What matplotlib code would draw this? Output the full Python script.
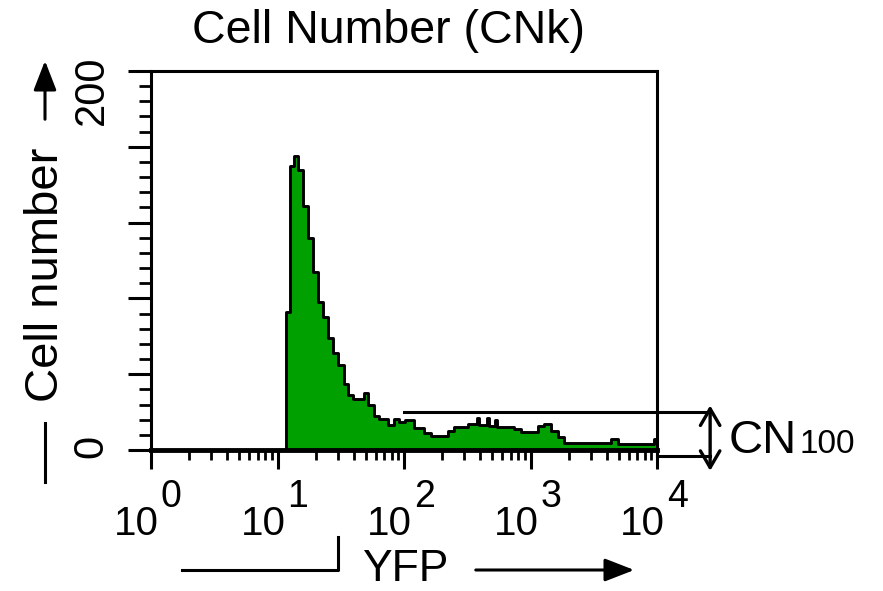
import numpy as np
import matplotlib
matplotlib.use("Agg")
import matplotlib.pyplot as plt
from matplotlib import font_manager as fm
from matplotlib.ticker import FixedLocator, MultipleLocator, NullFormatter, FuncFormatter, LogLocator

names = {f.name for f in fm.fontManager.ttflist}
SANS = "Liberation Sans"
NARROW = "Liberation Sans Narrow" if "Liberation Sans Narrow" in names else SANS

# ---------------- data ----------------
# histogram bin edges, as log10(YFP)
yfp_bin_edges_log10 = [
    0.0, 1.067, 1.099, 1.130, 1.162, 1.202, 1.241, 1.281, 1.320, 1.360, 1.399,
    1.439, 1.478, 1.526, 1.557, 1.597, 1.684, 1.715, 1.763, 1.802, 1.874,
    1.921, 1.960, 2.008, 2.079, 2.158, 2.213, 2.348, 2.395, 2.506, 2.577,
    2.593, 2.656, 2.672, 2.719, 2.735, 2.870, 2.925, 3.059, 3.107, 3.162,
    3.217, 3.265, 3.636, 3.692, 3.976, 4.0,
]
# cell counts in each bin
cell_counts = [
    0, 73, 150, 155, 148, 129, 112, 94, 78, 70, 59,
    51, 45, 35, 29, 27, 30, 24, 18, 16.5, 13,
    16.5, 15, 16, 11.5, 9, 7.5, 10, 12, 13.5, 17,
    13, 17, 12.5, 16, 12, 11, 9.5, 12.5, 13.5, 10,
    7, 3.9, 5.8, 3.1, 6,
]
x_decades = [0, 1, 2, 3, 4]
y_major_ticks = [0, 40, 80, 120, 160, 200]
y_labelled = [0, 200]
cn100_level = 20
cn100_start = 100

title = "Cell Number (CNk)"
ylabel = "Cell number"
xlabel = "YFP"

# ---------------- figure ----------------
W, H = 883, 591
fig = plt.figure(figsize=(W / 100, H / 100), dpi=100)
ax = fig.add_axes([151 / W, 1 - 450 / H, 506 / W, 379 / H])
ax.set_xscale("log")
ax.set_xlim(10 ** x_decades[0], 10 ** x_decades[-1])
ax.set_ylim(0, 200)

x_edges = 10 ** np.array(yfp_bin_edges_log10)
y_ext = np.array(cell_counts + [cell_counts[-1]], dtype=float)
ax.fill_between(x_edges, 0, y_ext, step="post", color="#00a000", lw=0, zorder=2)
ax.step(x_edges, y_ext, where="post", color="black", lw=2.1, zorder=3)

for s in ["left", "top", "right"]:
    ax.spines[s].set_linewidth(2.2)
ax.spines["bottom"].set_linewidth(3.5)

ax.xaxis.set_major_locator(FixedLocator([10.0 ** d for d in x_decades]))
ax.xaxis.set_minor_locator(LogLocator(base=10, subs=np.arange(2, 10), numticks=20))
ax.xaxis.set_major_formatter(NullFormatter())
ax.xaxis.set_minor_formatter(NullFormatter())
ax.tick_params(axis="x", which="major", direction="out", length=14, width=2.2)
ax.tick_params(axis="x", which="minor", direction="out", length=7, width=2.0)

ax.yaxis.set_major_locator(FixedLocator(y_major_ticks))
ax.yaxis.set_minor_locator(MultipleLocator(8))
ax.yaxis.set_major_formatter(
    FuncFormatter(lambda v, p: f"{int(round(v))}" if int(round(v)) in y_labelled else "")
)
ax.tick_params(axis="y", which="major", direction="out", length=16.5, width=2.2,
               labelsize=34 if NARROW != SANS else 30, pad=12, labelrotation=90)
ax.tick_params(axis="y", which="minor", direction="out", length=8.5, width=2.0)
for t in ax.get_yticklabels():
    t.set_fontfamily(NARROW)

# x tick labels: 10 with exponent
base_fs = 34 if NARROW != SANS else 29
exp_fs = 29 if NARROW != SANS else 27
for d in x_decades:
    ax.annotate("10", xy=(10.0 ** d, 0), xycoords=("data", "axes fraction"),
                xytext=(6.0, -61), textcoords="offset points",
                ha="right", va="baseline", fontsize=base_fs, family=NARROW,
                annotation_clip=False)
    ax.annotate(str(d), xy=(10.0 ** d, 0), xycoords=("data", "axes fraction"),
                xytext=(7.0, -41), textcoords="offset points",
                ha="left", va="baseline", fontsize=exp_fs, family=NARROW,
                annotation_clip=False)

# title
fig.text(389 / W, 1 - 43 / H, title, ha="center", va="baseline", fontsize=33.5, family=SANS)

# y label with line and arrow
fig.text(58 / W, 1 - 275 / H, ylabel, rotation=90, rotation_mode="anchor",
         ha="center", va="baseline", fontsize=34, family=SANS)
fig.add_artist(plt.Line2D([45 / W, 45 / W], [1 - 423 / H, 1 - 482 / H], color="black", lw=2.2))
fig.patches.append(matplotlib.patches.FancyArrowPatch(
    (45 / W, 1 - 122 / H), (45 / W, 1 - 58 / H), transform=fig.transFigure,
    arrowstyle="-|>,head_length=0.9,head_width=0.35", mutation_scale=20, color="black", lw=2.2))

# x label with line and arrow
fig.text(405 / W, 1 - 581 / H, xlabel, ha="center", va="baseline", fontsize=32, family=SANS)
fig.add_artist(plt.Line2D([182 / W, 338 / W, 338 / W], [1 - 570 / H, 1 - 570 / H, 1 - 537 / H],
                          color="black", lw=2.2))
fig.patches.append(matplotlib.patches.FancyArrowPatch(
    (473 / W, 1 - 570 / H), (637 / W, 1 - 570 / H), transform=fig.transFigure,
    arrowstyle="-|>,head_length=0.9,head_width=0.35", mutation_scale=20, color="black", lw=2.2))

# CN100 annotation
x_arrow = 10 ** 4.42
ax.plot([cn100_start, x_arrow], [cn100_level, cn100_level], color="black", lw=2.2,
        clip_on=False, zorder=4)
ax.plot([10 ** 4, x_arrow], [-3.2, -3.2], color="black", lw=2.2, clip_on=False, zorder=4)
ax.annotate("", xy=(x_arrow, 23.5), xytext=(x_arrow, -11), xycoords="data",
            arrowprops=dict(arrowstyle="<->,head_length=0.6,head_width=0.35", color="black",
                            lw=2.4, shrinkA=0, shrinkB=0, mutation_scale=20),
            annotation_clip=False)
fig.text(729 / W, 1 - 453 / H, "CN", ha="left", va="baseline", fontsize=34, family=SANS)
fig.text(800 / W, 1 - 453 / H, "100", ha="left", va="baseline", fontsize=24, family=SANS)

fig.savefig("out.png", dpi=100)
